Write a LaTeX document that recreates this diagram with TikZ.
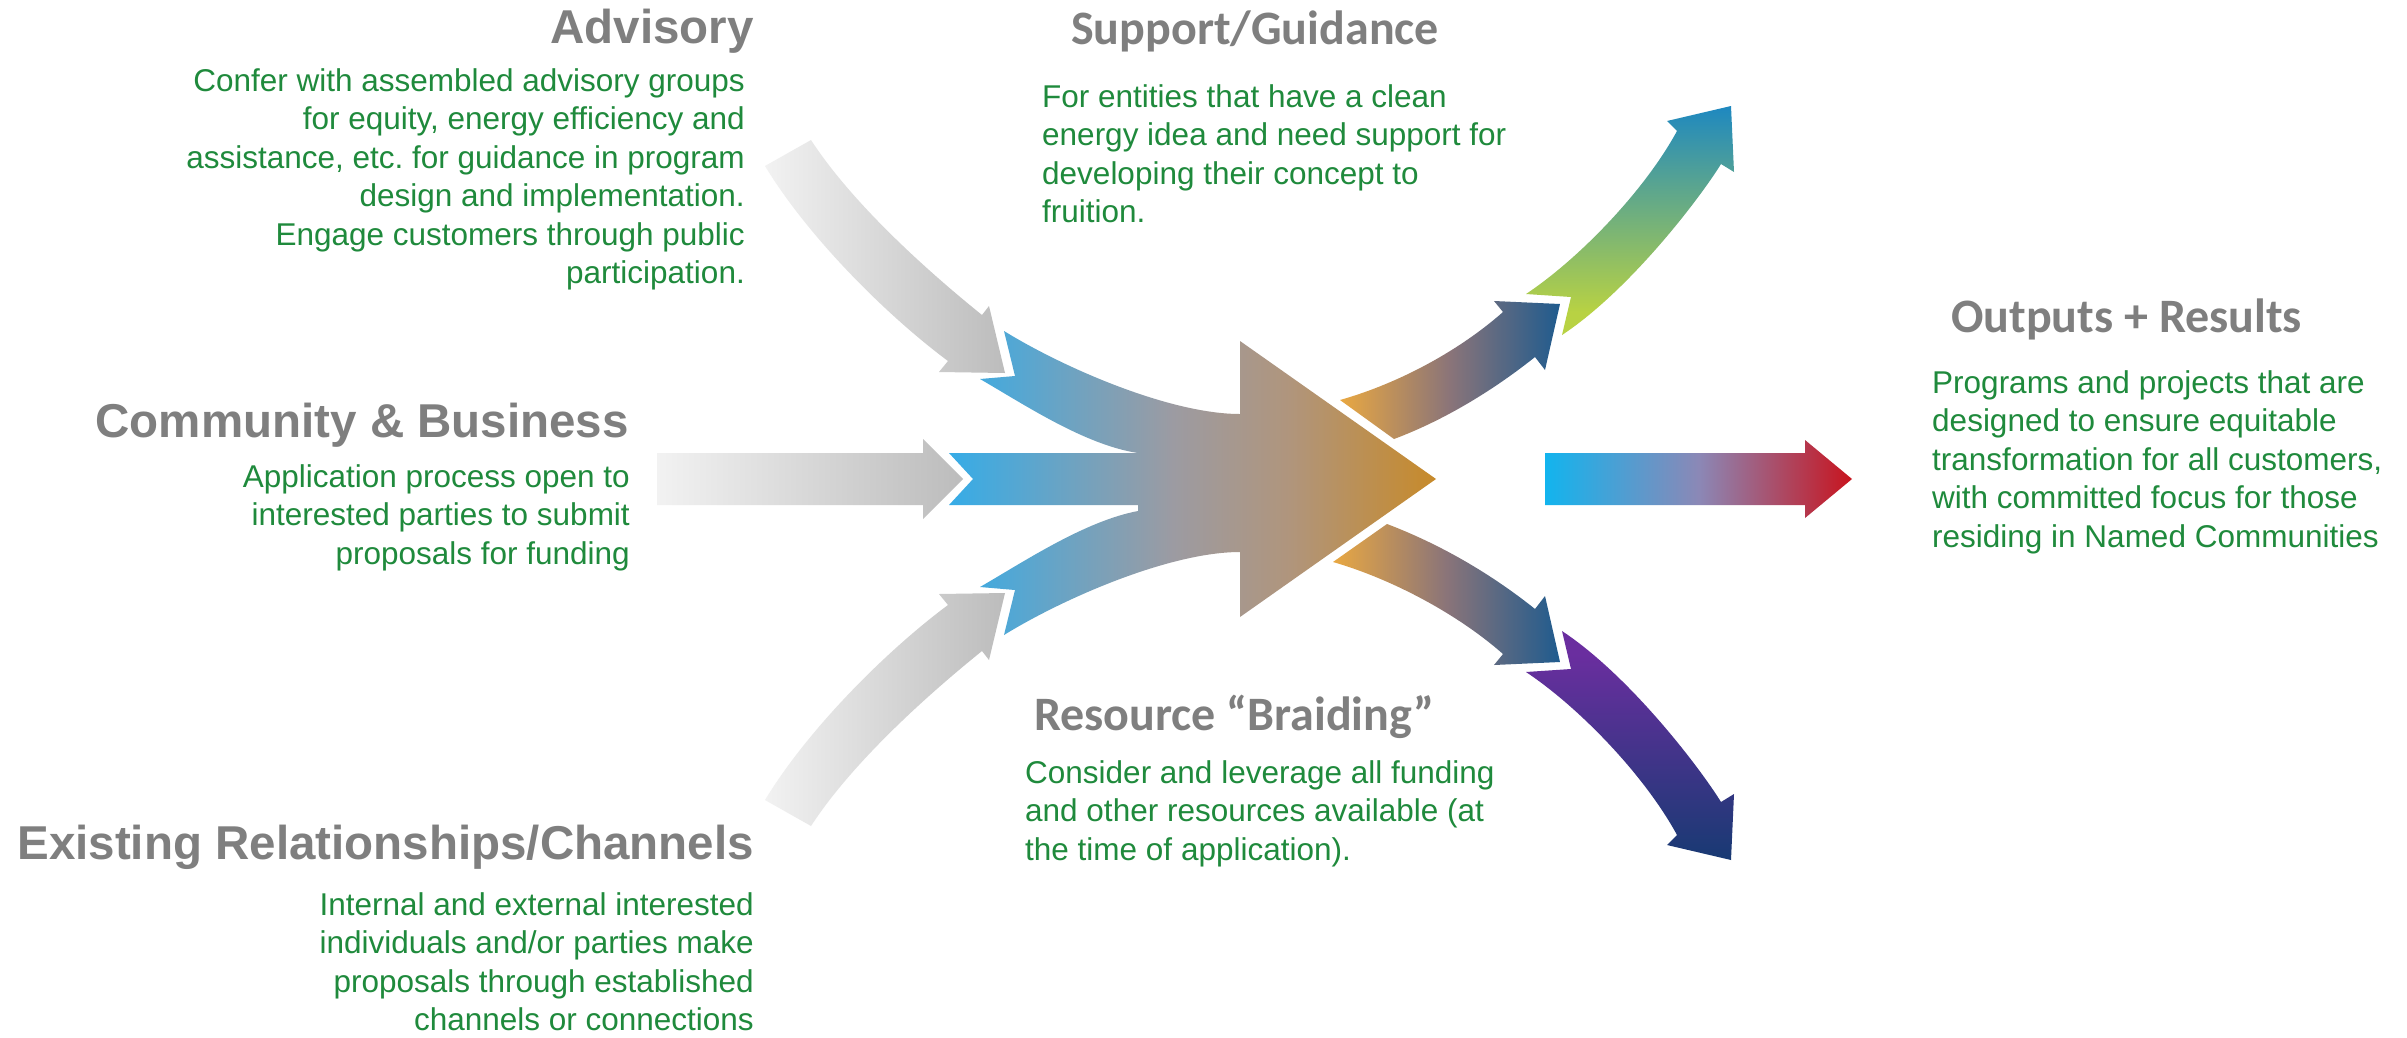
\documentclass[tikz,border=0pt]{standalone}
\usepackage{fontspec}
\setmainfont{Liberation Sans}
\newfontfamily\carlito{Carlito}
\frenchspacing
\definecolor{textgreen}{HTML}{1F8A3C}
\definecolor{headgray}{HTML}{7F7F7F}
\definecolor{gLight}{HTML}{F2F2F2}
\definecolor{gDark}{HTML}{BCBCBC}
\definecolor{cBlue}{HTML}{36ACE7}
\definecolor{cMid}{HTML}{9C9BA2}
\definecolor{cTan}{HTML}{B0957C}
\definecolor{cOrange}{HTML}{C78A2A}
\definecolor{bOrange}{HTML}{E9A842}
\definecolor{bMid}{HTML}{8A7479}
\definecolor{bNavy}{HTML}{1F5B8E}
\definecolor{cGreen}{HTML}{B8D243}
\definecolor{cTeal}{HTML}{1E88C0}
\definecolor{cPurple}{HTML}{6A2E9F}
\definecolor{cNavy}{HTML}{183A73}
\definecolor{rCyan}{HTML}{12B4EE}
\definecolor{rMid}{HTML}{8B88B6}
\definecolor{rRed}{HTML}{C8141E}
\pgfdeclarehorizontalshading{grayshade}{100bp}{color(0bp)=(gLight); color(25bp)=(gLight); color(75bp)=(gDark); color(100bp)=(gDark)}
\pgfdeclarehorizontalshading{blueshade}{100bp}{color(0bp)=(cBlue); color(25bp)=(cBlue); color(48bp)=(cMid); color(60bp)=(cTan); color(75bp)=(cOrange); color(100bp)=(cOrange)}
\pgfdeclarehorizontalshading{brownshade}{100bp}{color(0bp)=(bOrange); color(25bp)=(bOrange); color(50bp)=(bMid); color(75bp)=(bNavy); color(100bp)=(bNavy)}
\pgfdeclarehorizontalshading{redshade}{100bp}{color(0bp)=(rCyan); color(25bp)=(rCyan); color(50bp)=(rMid); color(75bp)=(rRed); color(100bp)=(rRed)}
\pgfdeclareverticalshading{greenshade}{100bp}{color(0bp)=(cGreen); color(30bp)=(cGreen); color(75bp)=(cTeal); color(100bp)=(cTeal)}
\pgfdeclareverticalshading{purpleshade}{100bp}{color(0bp)=(cNavy); color(25bp)=(cNavy); color(70bp)=(cPurple); color(100bp)=(cPurple)}
\tikzset{
  bodytext/.style={text=textgreen, font=\fontsize{31.5}{38.5}\selectfont, inner sep=0pt},
  headA/.style={text=headgray, font=\bfseries\fontsize{47.5}{57}\selectfont, inner sep=0pt},
  headC/.style={text=headgray, font=\carlito\bfseries\fontsize{48}{57}\selectfont, inner sep=0pt}
}
\begin{document}
\begin{tikzpicture}[x=1pt,y=-1pt]
\useasboundingbox (0,0) rectangle (2407,1037);
\fill[white] (0,0) rectangle (2407,1037);

% gray input arrows
\shade[shading=grayshade] (765,166) -- (811,140) .. controls (850,200) and (920,265) .. (982,315)
  -- (989,306) -- (1005,373) -- (939,372) -- (948,361) .. controls (890,318) and (810,240) .. (765,166) -- cycle;
\shade[shading=grayshade] (657,453) -- (923,453) -- (923,439) -- (963,479) -- (923,519) -- (923,505) -- (657,505) -- cycle;
\shade[shading=grayshade] (765,800) -- (811,826) .. controls (850,766) and (920,701) .. (982,651)
  -- (989,660) -- (1005,593) -- (939,594) -- (948,605) .. controls (890,648) and (810,726) .. (765,800) -- cycle;

% merged central arrow
\shade[shading=blueshade] (1004,331) .. controls (1064,368) and (1170,414) .. (1240,414)
  -- (1240,341) -- (1436,479) -- (1240,617) -- (1240,552)
  .. controls (1170,552) and (1064,598) .. (1004,635)
  -- (1015,590) -- (980,587) .. controls (1025,561) and (1085,521) .. (1138,511)
  -- (1138,505) -- (949,505) -- (973,479) -- (949,453) -- (1138,453)
  .. controls (1085,445) and (1025,405) .. (980,379) -- (1015,376) -- cycle;

% outflow arrows
\shade[shading=brownshade] (1340,400) .. controls (1400,383) and (1460,350) .. (1503,312)
  -- (1494,301) -- (1560,304) -- (1545,370) -- (1535,357)
  .. controls (1500,385) and (1450,418) .. (1394,439) -- cycle;
\shade[shading=greenshade] (1526,294) .. controls (1580,258) and (1645,190) .. (1677,131)
  -- (1667,121) -- (1731,106) -- (1734,172) -- (1721,164)
  .. controls (1700,198) and (1630,290) .. (1562,335) -- (1571,297) -- cycle;
\shade[shading=brownshade] (1333,562) .. controls (1395,580) and (1460,616) .. (1503,654)
  -- (1494,665) -- (1560,662) -- (1545,596) -- (1535,609)
  .. controls (1500,581) and (1450,548) .. (1387,524) -- cycle;
\shade[shading=purpleshade] (1526,672) .. controls (1580,708) and (1645,776) .. (1677,835)
  -- (1667,845) -- (1731,860) -- (1734,794) -- (1721,802)
  .. controls (1700,768) and (1630,676) .. (1562,631) -- (1571,669) -- cycle;
\shade[shading=redshade] (1545,453) -- (1805,453) -- (1805,440) -- (1852,479) -- (1805,518) -- (1805,505) -- (1545,505) -- cycle;

% texts (base anchor of a multi-line node = baseline of its last line)
\node[headA, anchor=base east] (advH) at (754,43) {Advisory};
\node[bodytext, anchor=base east, align=right] (advB) at (745,283.5)
  {Confer with assembled advisory groups\\for equity, energy efficiency and\\assistance, etc. for guidance in program\\design and implementation.\\Engage customers through public\\participation.};
\node[headA, anchor=base east] (comH) at (629,437) {Community \& Business};
\node[bodytext, anchor=base east, align=right] (comB) at (630,564)
  {Application process open to\\interested parties to submit\\proposals for funding};
\node[headA, anchor=base east] (exiH) at (754,859) {Existing Relationships/Channels};
\node[bodytext, anchor=base east, align=right] (exiB) at (754,1030.5)
  {Internal and external interested\\individuals and/or parties make\\proposals through established\\channels or connections};
\node[headC, anchor=base west] (supH) at (1071,44) {Support/Guidance};
\node[bodytext, anchor=base west, align=left] (supB) at (1042,222.5)
  {For entities that have a clean\\energy idea and need support for\\developing their concept to\\fruition.};
\node[headC, anchor=base west] (resH) at (1034,730) {Resource “Braiding”};
\node[bodytext, anchor=base west, align=left] (resB) at (1025,860)
  {Consider and leverage all funding\\and other resources available (at\\the time of application).};
\node[headC, anchor=base west] (outH) at (1951,332) {Outputs + Results};
\node[bodytext, anchor=base west, align=left] (outB) at (1932,547)
  {Programs and projects that are\\designed to ensure equitable\\transformation for all customers,\\with committed focus for those\\residing in Named Communities};
\end{tikzpicture}
\end{document}
